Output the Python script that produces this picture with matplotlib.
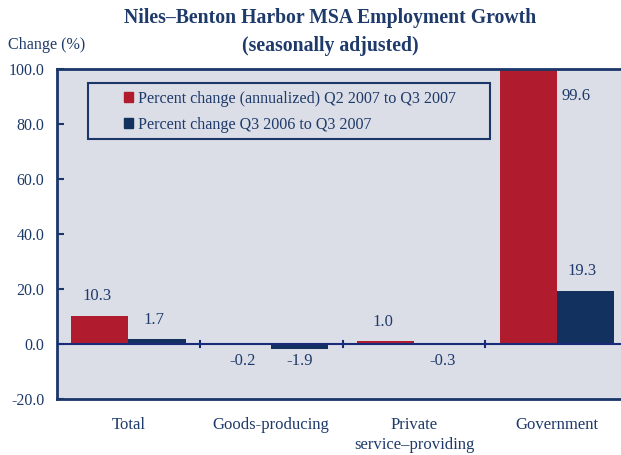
import matplotlib
matplotlib.use("Agg")
import matplotlib.pyplot as plt
import numpy as np
from matplotlib.patches import Patch, Rectangle

categories = ["Total", "Goods-producing", "Private\nservice\u2013providing", "Government"]
annualized = [10.3, -0.2, 1.0, 99.6]
yoy = [1.7, -1.9, -0.3, 19.3]
series_names = ["Percent change (annualized) Q2 2007 to Q3 2007",
                "Percent change Q3 2006 to Q3 2007"]
yticks = [-20, 0, 20, 40, 60, 80, 100]

RED = "#B01C2E"
NAVY = "#13315F"
BG = "#DCDEE7"
TXT = "#1E3A6A"
SPINE = "#1B3668"

plt.rcParams["font.family"] = ["Liberation Serif", "DejaVu Serif"]

fig = plt.figure(figsize=(6.21, 4.55), dpi=100)
W, H = 621, 455
ax = fig.add_axes([57 / W, (H - 399) / H, (621 - 57) / W, 330 / H])
ax.set_facecolor(BG)

x = np.arange(len(categories))
bw = 0.4
b1 = ax.bar(x - bw / 2, annualized, bw, color=RED, zorder=2)
b2 = ax.bar(x + bw / 2, yoy, bw, color=NAVY, zorder=2)

ax.set_xlim(-0.5, 3.45)
ax.set_ylim(-20, 100)
ax.set_yticks(yticks)
ax.set_yticklabels([f"{v:.1f}" for v in yticks], color=TXT, fontsize=11.5)
ax.tick_params(axis="y", direction="in", length=5, width=1.5, color=SPINE, pad=9)
ax.set_xticks(x)
ax.set_xticklabels(categories, color=TXT, fontsize=12, linespacing=1.35)
ax.tick_params(axis="x", length=0, pad=13)

for s in ["left", "bottom", "top"]:
    ax.spines[s].set_color(SPINE)
    ax.spines[s].set_linewidth(2)
ax.spines["right"].set_visible(False)

ax.axhline(0, color="#1A2A7A", lw=1.5, zorder=3)
for b in [0.5, 1.5, 2.5]:
    ax.plot([b, b], [-1.2, 1.2], color="#1A2A7A", lw=1.5, zorder=3)

FS = 12

def label(bar, v):
    cx = bar.get_x() + bar.get_width() / 2
    if v > 90:
        ax.annotate(f"{v:.1f}", (cx + bw, v), xytext=(-7, -19), textcoords="offset points",
                    ha="center", va="center", color=TXT, fontsize=FS)
    elif v >= 0:
        ax.annotate(f"{v:.1f}", (cx, v), xytext=(-2, 14), textcoords="offset points",
                    ha="center", va="center", color=TXT, fontsize=FS)
    else:
        ax.annotate(f"{v:.1f}", (cx, 0), xytext=(0, -12), textcoords="offset points",
                    ha="center", va="center", color=TXT, fontsize=FS)

for bar, v in zip(b1, annualized):
    label(bar, v)
for bar, v in zip(b2, yoy):
    label(bar, v)

handles = [Patch(color=RED), Patch(color=NAVY)]
leg = ax.legend(handles, series_names, loc="upper left",
                bbox_to_anchor=((124 - 57) / 564, 1 - (91 - 69) / 330),
                frameon=False, fontsize=11.6, handlelength=0.58, handleheight=0.58,
                handletextpad=0.3, borderpad=0.0, labelspacing=0.62, borderaxespad=0)
for t in leg.get_texts():
    t.set_color(TXT)

# legend frame
fx0, fx1, fy0, fy1 = 88, 490, 83, 139
ax.add_patch(Rectangle(((fx0 - 57) / 564, 1 - (fy1 - 69) / 330), (fx1 - fx0) / 564, (fy1 - fy0) / 330,
                       transform=ax.transAxes, fill=False, edgecolor=SPINE, lw=1.5, zorder=4))

fig.text(330 / W, 1 - 18 / H, "Niles\u2013Benton Harbor MSA Employment Growth", ha="center", va="center",
         fontsize=14.2, fontweight="bold", color=TXT)
fig.text(330 / W, 1 - 46 / H, "(seasonally adjusted)", ha="center", va="center",
         fontsize=14.2, fontweight="bold", color=TXT)
fig.text(8 / W, 1 - 45 / H, "Change (%)", ha="left", va="center", fontsize=11.6, color=TXT)

fig.savefig("out.png", dpi=100)
